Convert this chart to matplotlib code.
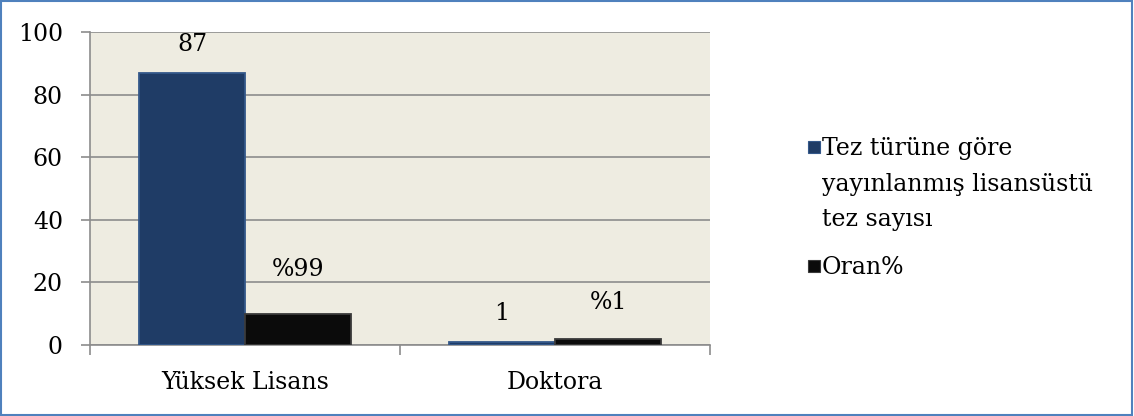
import matplotlib
matplotlib.use("Agg")
import matplotlib.pyplot as plt
from matplotlib.patches import Rectangle
import numpy as np

categories = ["Yüksek Lisans", "Doktora"]
counts = [87, 1]
ratios = [10, 2]
count_labels = ["87", "1"]
ratio_labels = ["%99", "%1"]
series_names = ["Tez türüne göre\nyayınlanmış lisansüstü\ntez sayısı", "Oran%"]
y_ticks = [0, 20, 40, 60, 80, 100]

plt.rcParams['font.family'] = ['DejaVu Serif', 'Liberation Serif']
FS = 17

blue = "#1F3C66"
black = "#0B0B0B"
grid_col = "#8C8C8C"
colors = [blue, black]
edges = ["#34588A", "#3A3A3A"]

fig = plt.figure(figsize=(11.34, 4.16), dpi=100)
fig.patches.append(Rectangle((0.001, 0.002), 0.997, 0.995, transform=fig.transFigure,
                             fill=False, edgecolor="#4F81BD", linewidth=1.5))

ax = fig.add_axes([0.0794, 0.1707, 0.5467, 0.7523])
ax.set_facecolor("#EEECE1")

x = np.arange(len(categories))
w = 0.342
ax.bar(x - w / 2, counts, w, color=blue, edgecolor=edges[0], linewidth=1.3, zorder=3)
ax.bar(x + w / 2, ratios, w, color=black, edgecolor=edges[1], linewidth=1.3, zorder=3)

# data labels (offsets in points above bar tops)
count_off = [12, 12]
ratio_off = [23.5, 17.5]
for i in range(len(categories)):
    ax.annotate(count_labels[i], (x[i] - w / 2, counts[i]), xytext=(0, count_off[i]),
                textcoords="offset points", ha="center", va="bottom", fontsize=FS)
    ax.annotate(ratio_labels[i], (x[i] + w / 2, ratios[i]), xytext=(0, ratio_off[i]),
                textcoords="offset points", ha="center", va="bottom", fontsize=FS)

ax.set_xlim(-0.5, len(categories) - 0.5)
ax.set_ylim(0, 100)
ax.set_yticks(y_ticks)
ax.set_yticklabels([str(t) for t in y_ticks], fontsize=FS)
ax.yaxis.grid(True, color=grid_col, linewidth=1.2, zorder=0)
ax.set_axisbelow(True)

ax.set_xticks(x)
ax.set_xticklabels(categories, fontsize=FS)
ax.set_xticks(np.arange(-0.5, len(categories)), minor=True)
ax.tick_params(axis="x", which="major", length=0, pad=19)
ax.tick_params(axis="x", which="minor", length=7, color=grid_col, width=1.2, direction="out")
ax.tick_params(axis="y", length=6.5, color=grid_col, width=1.2, pad=13)

for s in ["top", "right"]:
    ax.spines[s].set_visible(False)
for s in ["left", "bottom"]:
    ax.spines[s].set_color(grid_col)
    ax.spines[s].set_linewidth(1.2)

# legend drawn by hand so the marker sits on the first line of the wrapped label
leg_x = 808 / 1134
leg_tops = [1 - 137 / 416, 1 - 256 / 416]
sq_w, sq_h = 12 / 1134, 12 / 416
for top, name, c, e in zip(leg_tops, series_names, colors, edges):
    fig.patches.append(Rectangle((leg_x, top - 4 / 416 - sq_h), sq_w, sq_h,
                                 transform=fig.transFigure, facecolor=c, edgecolor=e, linewidth=0.8))
    fig.text(leg_x + 14 / 1134, top, name, fontsize=FS, va="top", ha="left", linespacing=1.7)

fig.savefig("out.png", dpi=100)
